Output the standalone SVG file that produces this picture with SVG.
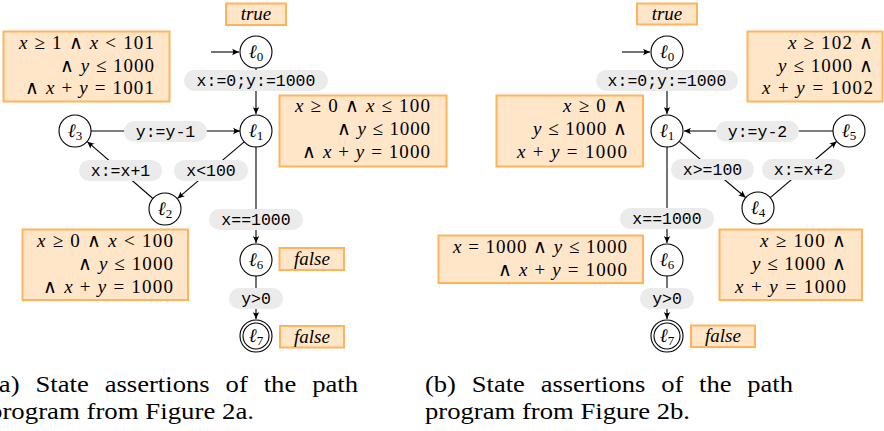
<svg xmlns="http://www.w3.org/2000/svg" width="884" height="431" viewBox="0 0 884 431">
<style>
.st{fill:#ffffff;stroke:#000;stroke-width:1.1}
.box{fill:#ffe6c8;stroke:#ffb35c;stroke-width:2}
.pill{fill:#ebebeb}
.e{fill:none;stroke:#000;stroke-width:1.1}
</style>
<defs>
<marker id="ah" viewBox="-8 -4 9 8" refX="0" refY="0" markerWidth="9" markerHeight="8" markerUnits="userSpaceOnUse" orient="auto">
<path d="M0,0 L-7,-3.2 Q-4.5,0 -7,3.2 Z" fill="#000"/>
</marker>
</defs>
<rect x="0" y="0" width="884" height="431" fill="#ffffff"/>

<g id="connectors">
<line class="e" x1="211" y1="52" x2="239" y2="52" marker-end="url(#ah)"/>
<line class="e" x1="256" y1="68" x2="256" y2="114" marker-end="url(#ah)"/>
<line class="e" x1="91" y1="131" x2="240" y2="131" marker-end="url(#ah)"/>
<line class="e" x1="244.8" y1="141.4" x2="177.5" y2="198.4" marker-end="url(#ah)"/>
<line class="e" x1="152.9" y1="198.5" x2="87.3" y2="141.7" marker-end="url(#ah)"/>
<line class="e" x1="256" y1="147" x2="256" y2="243" marker-end="url(#ah)"/>
<line class="e" x1="256" y1="276" x2="256" y2="319" marker-end="url(#ah)"/>
<line class="e" x1="622" y1="52" x2="650" y2="52" marker-end="url(#ah)"/>
<line class="e" x1="667" y1="68" x2="667" y2="114" marker-end="url(#ah)"/>
<line class="e" x1="833" y1="131" x2="684" y2="131" marker-end="url(#ah)"/>
<line class="e" x1="679.2" y1="141.3" x2="745.6" y2="197.5" marker-end="url(#ah)"/>
<line class="e" x1="770.2" y1="197.7" x2="836.6" y2="141.5" marker-end="url(#ah)"/>
<line class="e" x1="667" y1="147" x2="667" y2="243" marker-end="url(#ah)"/>
<line class="e" x1="667" y1="276" x2="667" y2="319" marker-end="url(#ah)"/>

<g id="edge-labels" font-family="Liberation Mono" font-size="16.5" text-anchor="middle" fill="#000">
<rect class="pill" x="184" y="70" width="144" height="21" rx="10.5"/>
<text x="256" y="86">x:=0;y:=1000</text>
<rect class="pill" x="124" y="121" width="83" height="21" rx="10.5"/>
<text x="165.5" y="137">y:=y-1</text>
<rect class="pill" x="79" y="160" width="83" height="21" rx="10.5"/>
<text x="120.5" y="176">x:=x+1</text>
<rect class="pill" x="174" y="160" width="74" height="21" rx="10.5"/>
<text x="211" y="176">x&lt;100</text>
<rect class="pill" x="209" y="209" width="94" height="21" rx="10.5"/>
<text x="256" y="225">x==1000</text>
<rect class="pill" x="229" y="288" width="54" height="21" rx="10.5"/>
<text x="256" y="304">y&gt;0</text>
<rect class="pill" x="596" y="70" width="142" height="21" rx="10.5"/>
<text x="667" y="86">x:=0;y:=1000</text>
<rect class="pill" x="716" y="121" width="83" height="21" rx="10.5"/>
<text x="757.5" y="137">y:=y-2</text>
<rect class="pill" x="671" y="159" width="83" height="21" rx="10.5"/>
<text x="712.5" y="175">x&gt;=100</text>
<rect class="pill" x="762" y="159" width="83" height="21" rx="10.5"/>
<text x="803.5" y="175">x:=x+2</text>
<rect class="pill" x="620" y="208" width="94" height="21" rx="10.5"/>
<text x="667" y="224">x==1000</text>
<rect class="pill" x="640" y="288" width="54" height="21" rx="10.5"/>
<text x="667" y="304">y&gt;0</text>
</g>
</g>

<g id="locations" font-family="Liberation Serif" font-size="19" font-style="italic" text-anchor="middle" fill="#000">
<g id="a-l0"><circle class="st" cx="256" cy="52" r="16"/><text x="256" y="58">ℓ<tspan font-size="13" font-style="normal" dy="3">0</tspan></text></g>
<g id="a-l1"><circle class="st" cx="256" cy="131" r="16"/><text x="256" y="137">ℓ<tspan font-size="13" font-style="normal" dy="3">1</tspan></text></g>
<g id="a-l3"><circle class="st" cx="75" cy="131" r="16"/><text x="75" y="137">ℓ<tspan font-size="13" font-style="normal" dy="3">3</tspan></text></g>
<g id="a-l2"><circle class="st" cx="165" cy="209" r="16"/><text x="165" y="215">ℓ<tspan font-size="13" font-style="normal" dy="3">2</tspan></text></g>
<g id="a-l6"><circle class="st" cx="256" cy="260" r="16"/><text x="256" y="266">ℓ<tspan font-size="13" font-style="normal" dy="3">6</tspan></text></g>
<g id="a-l7"><circle class="st" cx="256" cy="336" r="16"/><circle class="st" cx="256" cy="336" r="13"/><text x="256" y="342">ℓ<tspan font-size="13" font-style="normal" dy="3">7</tspan></text></g>
<g id="b-l0"><circle class="st" cx="667" cy="52" r="16"/><text x="667" y="58">ℓ<tspan font-size="13" font-style="normal" dy="3">0</tspan></text></g>
<g id="b-l1"><circle class="st" cx="667" cy="131" r="16"/><text x="667" y="137">ℓ<tspan font-size="13" font-style="normal" dy="3">1</tspan></text></g>
<g id="b-l5"><circle class="st" cx="849" cy="131" r="16"/><text x="849" y="137">ℓ<tspan font-size="13" font-style="normal" dy="3">5</tspan></text></g>
<g id="b-l4"><circle class="st" cx="758" cy="208" r="16"/><text x="758" y="214">ℓ<tspan font-size="13" font-style="normal" dy="3">4</tspan></text></g>
<g id="b-l6"><circle class="st" cx="667" cy="260" r="16"/><text x="667" y="266">ℓ<tspan font-size="13" font-style="normal" dy="3">6</tspan></text></g>
<g id="b-l7"><circle class="st" cx="667" cy="336" r="16"/><circle class="st" cx="667" cy="336" r="13"/><text x="667" y="342">ℓ<tspan font-size="13" font-style="normal" dy="3">7</tspan></text></g>

<g id="a-true"><rect class="box" x="226" y="3.5" width="60" height="21.5"/><text x="256" y="20">true</text></g>
<g id="a-false6"><rect class="box" x="279.5" y="248" width="64.5" height="22"/><text x="312" y="265">false</text></g>
<g id="a-false7"><rect class="box" x="280" y="326" width="64" height="21.5"/><text x="312" y="342.5">false</text></g>
<g id="b-true"><rect class="box" x="637" y="3.5" width="60" height="21"/><text x="667" y="20">true</text></g>
<g id="b-false7"><rect class="box" x="691" y="325.5" width="64" height="21.5"/><text x="723" y="342">false</text></g>
</g>

<g id="assertions" font-family="Liberation Serif" font-size="19" text-anchor="end" fill="#000">
<g id="a-assert0">
<rect class="box" x="3.5" y="31.5" width="166" height="70"/>
<text x="154" y="49" textLength="135"><tspan font-style="italic">x</tspan> ≥ 1 ∧ <tspan font-style="italic">x</tspan> &lt; 101</text>
<text x="154" y="72" textLength="94">∧ <tspan font-style="italic">y</tspan> ≤ 1000</text>
<text x="154" y="94" textLength="129">∧ <tspan font-style="italic">x</tspan> + <tspan font-style="italic">y</tspan> = 1001</text>
</g>
<g id="a-assert1">
<rect class="box" x="279.5" y="95.5" width="167" height="71"/>
<text x="430" y="112" textLength="135"><tspan font-style="italic">x</tspan> ≥ 0 ∧ <tspan font-style="italic">x</tspan> ≤ 100</text>
<text x="430" y="135" textLength="93">∧ <tspan font-style="italic">y</tspan> ≤ 1000</text>
<text x="430" y="158" textLength="128">∧ <tspan font-style="italic">x</tspan> + <tspan font-style="italic">y</tspan> = 1000</text>
</g>
<g id="a-assert2">
<rect class="box" x="22.5" y="229.5" width="165.5" height="70.5"/>
<text x="173" y="247" textLength="136"><tspan font-style="italic">x</tspan> ≥ 0 ∧ <tspan font-style="italic">x</tspan> &lt; 100</text>
<text x="173" y="270" textLength="95">∧ <tspan font-style="italic">y</tspan> ≤ 1000</text>
<text x="173" y="293" textLength="130">∧ <tspan font-style="italic">x</tspan> + <tspan font-style="italic">y</tspan> = 1000</text>
</g>
<g id="b-assert0">
<rect class="box" x="747.5" y="31.5" width="135" height="70"/>
<text x="873" y="49" textLength="85"><tspan font-style="italic">x</tspan> ≥ 102 ∧</text>
<text x="873" y="72" textLength="95"><tspan font-style="italic">y</tspan> ≤ 1000 ∧</text>
<text x="873" y="94" textLength="111"><tspan font-style="italic">x</tspan> + <tspan font-style="italic">y</tspan> = 1002</text>
</g>
<g id="b-assert1">
<rect class="box" x="496.5" y="95.5" width="146.5" height="71"/>
<text x="627" y="112" textLength="64"><tspan font-style="italic">x</tspan> ≥ 0 ∧</text>
<text x="627" y="135" textLength="94"><tspan font-style="italic">y</tspan> ≤ 1000 ∧</text>
<text x="627" y="158" textLength="110"><tspan font-style="italic">x</tspan> + <tspan font-style="italic">y</tspan> = 1000</text>
</g>
<g id="b-assert6">
<rect class="box" x="438.5" y="235.5" width="204.5" height="47.5"/>
<text x="627" y="253" textLength="174"><tspan font-style="italic">x</tspan> = 1000 ∧ <tspan font-style="italic">y</tspan> ≤ 1000</text>
<text x="627" y="276" textLength="129">∧ <tspan font-style="italic">x</tspan> + <tspan font-style="italic">y</tspan> = 1000</text>
</g>
<g id="b-assert4">
<rect class="box" x="719.5" y="229.5" width="142.5" height="70.5"/>
<text x="846" y="247" textLength="86"><tspan font-style="italic">x</tspan> ≥ 100 ∧</text>
<text x="846" y="270" textLength="94"><tspan font-style="italic">y</tspan> ≤ 1000 ∧</text>
<text x="846" y="293" textLength="111"><tspan font-style="italic">x</tspan> + <tspan font-style="italic">y</tspan> = 1000</text>
</g>
</g>

<g id="captions" font-family="Liberation Serif" font-size="23" fill="#000">
<text x="-10" y="392" textLength="368" lengthAdjust="spacingAndGlyphs" word-spacing="8">(a) State assertions of the path</text>
<text x="-11" y="419" textLength="265" lengthAdjust="spacingAndGlyphs">program from Figure 2a.</text>
<text x="425" y="392" textLength="368" lengthAdjust="spacingAndGlyphs" word-spacing="8">(b) State assertions of the path</text>
<text x="425" y="419" textLength="265" lengthAdjust="spacingAndGlyphs">program from Figure 2b.</text>
</g>
</svg>
